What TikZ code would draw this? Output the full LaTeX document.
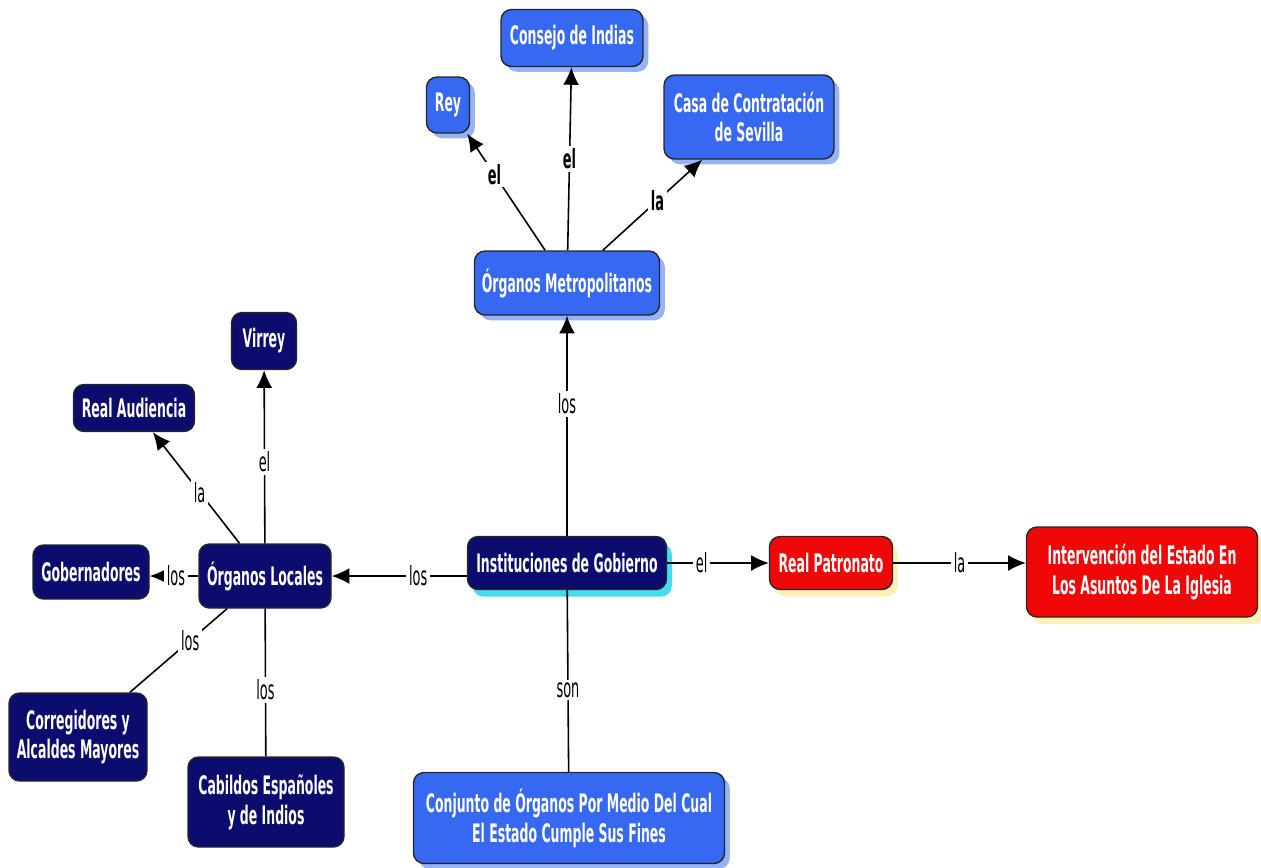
\documentclass[tikz,border=0pt]{standalone}
\usepackage{fontspec}
\newfontfamily\mapfont[FakeStretch=0.49]{DejaVu Sans}
\usetikzlibrary{arrows.meta, shadows}

\definecolor{NavyNode}{RGB}{12,12,110}
\definecolor{BlueNode}{RGB}{55,104,242}
\definecolor{RedNode}{RGB}{240,8,8}
\definecolor{ShadowBlue}{RGB}{150,180,245}
\definecolor{ShadowCyan}{RGB}{70,220,240}
\definecolor{ShadowYellow}{RGB}{255,240,185}

\tikzset{
    concept/.style={draw=black!85, line width=0.8pt, rounded corners=6pt,
        text=white, align=center, inner sep=2pt,
        font=\mapfont\bfseries\fontsize{14.5}{17}\selectfont},
    box size/.style 2 args={minimum width=#1*0.02cm, minimum height=#2*0.02cm},
    dark/.style={concept, fill=NavyNode},
    light/.style={concept, fill=BlueNode,
        drop shadow={shadow xshift=3pt, shadow yshift=-3pt, fill=ShadowBlue, opacity=1}},
    redbox/.style={concept, fill=RedNode,
        drop shadow={shadow xshift=3pt, shadow yshift=-4pt, fill=ShadowYellow, opacity=1}},
    link/.style={line width=0.9pt, black},
    arrow/.style={link, -{Latex[length=10pt, width=9pt]}},
    lbl/.style={fill=white, inner sep=1.5pt, text=black,
        font=\mapfont\fontsize{15}{17}\selectfont},
    boldlbl/.style={lbl, font=\mapfont\bfseries\fontsize{15}{17}\selectfont}
}

\begin{document}
\begin{tikzpicture}[x=0.02cm, y=-0.02cm]

    \useasboundingbox (0,0) rectangle (1261,867);

    % Conceptos centrales
    \node [dark, box size={199}{53},
        drop shadow={shadow xshift=3pt, shadow yshift=-4pt, fill=ShadowCyan, opacity=1}]
        (ins) at (567,563) {Instituciones de Gobierno};
    \node [light, box size={185}{64}] (met) at (567,283) {Órganos Metropolitanos};
    \node [dark, box size={132}{64}] (loc) at (265,576) {Órganos Locales};
    \node [redbox, box size={123}{53}] (pat) at (831,563) {Real Patronato};
    \node [redbox, box size={231}{90}] (int) at (1142,572)
        {Intervención del Estado En\\Los Asuntos De La Iglesia};
    \node [light, box size={311}{91}] (conj) at (569,818)
        {Conjunto de Órganos Por Medio Del Cual\\El Estado Cumple Sus Fines};

    % Órganos metropolitanos
    \node [light, box size={43}{56}] (rey) at (448,105) {Rey};
    \node [light, box size={142}{57}] (con) at (572,38) {Consejo de Indias};
    \node [light, box size={170}{84}] (casa) at (749,117) {Casa de Contratación\\de Sevilla};

    % Órganos locales
    \node [dark, box size={65}{57}] (vir) at (264,341) {Virrey};
    \node [dark, box size={121}{47}] (aud) at (134,408) {Real Audiencia};
    \node [dark, box size={116}{54}] (gob) at (91,572) {Gobernadores};
    \node [dark, box size={138}{88}] (cor) at (78,737) {Corregidores y\\Alcaldes Mayores};
    \node [dark, box size={156}{90}] (cab) at (266,802) {Cabildos Españoles\\y de Indios};

    % Enlaces
    \draw [arrow] (ins) -- node [lbl, pos=0.6] {los} (met);
    \draw [arrow] (ins.west |- loc.east) -- node [lbl, pos=0.36] {los} (loc.east);
    \draw [arrow] (ins.east) -- node [lbl, pos=0.34] {el} (pat.west);
    \draw [arrow] (pat.east) -- node [lbl, pos=0.5] {la} (int.west |- pat.east);
    \draw [link] (ins) -- node [lbl, pos=0.55] {son} (conj);

    \draw [arrow] (met) -- node [boldlbl, pos=0.65] {el} (rey);
    \draw [arrow] (met) -- node [boldlbl, pos=0.5] {el} (con);
    \draw [arrow] (met) -- node [boldlbl, pos=0.55] {la} (casa);

    \draw [arrow] (loc) -- node [lbl, pos=0.47] {el} (vir);
    \draw [arrow] (loc) -- node [lbl, pos=0.46] {la} (aud);
    \draw [arrow] (loc.west) -- node [lbl, pos=0.46] {los} (gob.east |- loc.west);
    \draw [link] (loc) -- node [lbl, pos=0.38] {los} (cor);
    \draw [link] (loc) -- node [lbl, pos=0.55] {los} (cab);

\end{tikzpicture}
\end{document}
